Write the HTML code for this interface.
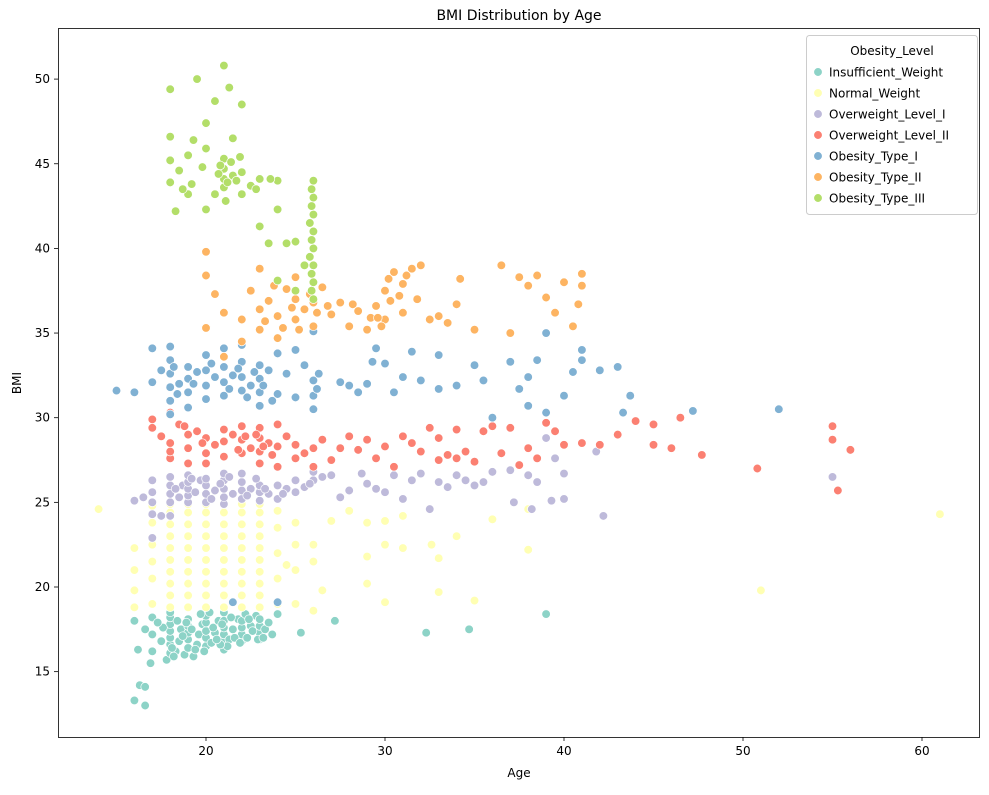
<!DOCTYPE html>
<html><head><meta charset="utf-8"><style>
body{margin:0;background:#fff;font-family:"Liberation Sans","DejaVu Sans",sans-serif}
svg text{font-family:"DejaVu Sans","Liberation Sans",sans-serif}
</style></head><body>
<svg id="chart" width="989" height="790">
<text x="519" y="20" text-anchor="middle" font-size="14">BMI Distribution by Age</text>
<g id="plot"></g>
<rect x="58.5" y="28.5" width="921" height="709" fill="none" stroke="#000" stroke-width="0.8"/>
<text x="519" y="777" text-anchor="middle" font-size="12">Age</text>
<text x="21" y="383" text-anchor="middle" font-size="12" transform="rotate(-90 21 383)">BMI</text>
</svg>
<script>
const seriesNames=["Insufficient_Weight","Normal_Weight","Overweight_Level_I","Overweight_Level_II","Obesity_Type_I","Obesity_Type_II","Obesity_Type_III"];
const colors=["#8dd3c7","#ffffb3","#bebada","#fb8072","#80b1d3","#fdb462","#b3de69"];
const xTicks=[20,30,40,50,60];
const yTicks=[15,20,25,30,35,40,45,50];
const insufficient=[[16,13.3],[16.3,14.2],[16.6,14.1],[16.6,13],[16.2,16.3],[16.9,15.5],[17,16.2],[16.6,17.5],[16,18],[17,17.2],[17,18.2],[17.5,16.8],[17.8,15.7],[18,16.1],[18,16.6],[18,17],[18,17.4],[18,17.8],[18,18.2],[18,18.5],[18.3,16.2],[18.5,16.8],[18.6,17.5],[18.8,16],[19,16.4],[19,16.9],[19,17.3],[19,17.7],[19,18.1],[19.3,15.9],[19.5,16.6],[19.6,17.2],[19.8,17.8],[20,16.5],[20,17],[20,17.4],[20,17.9],[20,18.3],[20.3,16.7],[20.5,17.3],[20.7,18],[21,16.3],[21,16.8],[21,17.2],[21,17.6],[21,18],[21,18.5],[21.3,16.9],[21.5,17.5],[21.8,18.1],[22,16.8],[22,17.2],[22,17.6],[22,18],[22.3,17],[22.5,17.7],[22.8,18.3],[23,16.9],[23,17.3],[23,17.7],[23,18.1],[23.3,17.5],[23.7,17.2],[24,18.4],[25.3,17.3],[27.2,18],[32.3,17.3],[34.7,17.5],[39,18.4],[20.2,18.5],[22.2,18.4],[19.4,16.3],[18.2,15.9],[21.2,16.5],[20.8,16.6],[18.7,17.1],[19.2,17.5],[20.6,16.9],[21.6,17],[22.6,17.4],[17.6,17.6],[18.4,18],[19.7,18.4],[23.5,17.9],[22.9,16.9],[18.9,17.9],[19.9,16.2],[20.4,17.6],[21.4,18.2],[21.9,16.7],[22.4,18.1],[23.2,17],[17.3,17.9],[18.1,16.4],[20.9,17.8]];
const normal=[[14,24.6],[61,24.3],[51,19.8],[30,19.1],[35,19.2],[38,22.2],[36,24],[33,19.7],[33,21.7],[32.6,22.5],[31,22.3],[31,24.2],[30,22.5],[30,23.9],[29,20.2],[29,21.8],[29,23.8],[27,23.9],[26,18.6],[26,21.5],[26,22.5],[25,21],[25,19],[34,23],[38,24.6],[16,18.8],[16,19.8],[16,21],[16,22.3],[17,19],[17,20.5],[17,21.5],[17,22.5],[17,23.8],[17,24.8],
[18,18.8],[18,19.5],[18,20.2],[18,20.9],[18,21.6],[18,22.3],[18,23],[18,23.7],[18,24.4],[18,24.9],
[19,18.8],[19,19.5],[19,20.2],[19,20.9],[19,21.6],[19,22.3],[19,23],[19,23.7],[19,24.4],[19,24.9],
[20,18.8],[20,19.5],[20,20.2],[20,20.9],[20,21.6],[20,22.3],[20,23],[20,23.7],[20,24.4],[20,24.9],
[21,18.8],[21,19.5],[21,20.2],[21,20.9],[21,21.6],[21,22.3],[21,23],[21,23.7],[21,24.4],[21,24.9],
[22,18.8],[22,19.5],[22,20.2],[22,20.9],[22,21.6],[22,22.3],[22,23],[22,23.7],[22,24.4],[22,24.9],
[23,18.8],[23,19.5],[23,20.2],[23,20.9],[23,21.6],[23,22.3],[23,23],[23,23.7],[23,24.4],[23,24.9],
[24,19],[24,20.5],[24,22],[24,23.5],[24,24.5],[25,22.5],[25,23.8],[24.5,21.3],[26.5,19.8],[28,24.5]];
const overweight1=[[16,25.1],[16.5,25.3],[17,22.9],[17,24.3],[17,25],[17,25.6],[17,26.3],[17.5,24.2],[18,24.2],[18,25],[18,25.5],[18,26],[18,26.5],[18.5,25.3],[18.7,26],[19,25],[19,25.4],[19,25.8],[19,26.2],[19,26.6],[19.4,25.6],[19.7,26.3],[20,25],[20,25.5],[20,26],[20,26.4],[20.5,25.7],[21,24.9],[21,25.3],[21,25.8],[21,26.3],[21,26.7],[21.5,25.5],[22,25.2],[22,25.7],[22,26.2],[22,26.7],[22.5,25.8],[23,25.1],[23,25.6],[23,26],[23.5,25.5],[24,25.2],[24,26],[24.5,25.8],[25,25.6],[25,26.3],[25.5,25.9],[26,26.3],[26,26.8],[26.5,26.5],[27,26.6],[27.5,25.3],[28,25.7],[28.7,26.7],[29,26.1],[29.5,25.8],[30,25.6],[30.5,26.6],[31,25.2],[31.5,26.3],[32,26.7],[32.5,24.6],[33,26.2],[33.5,25.9],[34,26.6],[34.5,26.3],[35,26],[35.5,26.2],[36,26.8],[37,26.9],[37.2,25],[38,26.6],[38.5,26.2],[39,28.8],[39.3,25.1],[39.5,27.6],[40,25.2],[40,26.7],[41.8,28],[42.2,24.2],[55,26.5],[38.2,24.6],[18.3,25.8],[19.2,26.4],[20.3,25.2],[20.8,26.1],[21.3,26.5],[22.3,25.4],[22.8,26.4],[23.3,25.8],[24.3,25.5],[25.8,26.1]];
const overweight2=[[17,29.9],[17,29.4],[17.5,28.9],[18,28.5],[18,27.6],[18,28],[18,30.3],[18.5,29.6],[19,29],[19,28.2],[19,27.3],[19.5,29.2],[20,28.8],[20,27.9],[20,27.3],[20.5,28.4],[21,29.3],[21,28.6],[21,27.7],[21.5,29],[22,29.5],[22,28.7],[22,27.9],[22.5,28.2],[23,29.4],[23,28.8],[23,28],[23,27.3],[23.5,28.5],[24,29.6],[24,28.3],[24,27.1],[24.5,28.9],[25,28.4],[25,27.6],[25.5,27.9],[26,27.1],[26,28.2],[26.5,28.7],[27,27.5],[27.5,28.2],[28,28.9],[28.5,28.1],[29,28.7],[29.5,27.6],[30,28.3],[30.5,27.1],[31,28.9],[31.5,28.5],[32,28],[32.5,29.4],[33,27.5],[33,28.8],[33.5,27.8],[34,29.3],[34,27.6],[34.5,28],[35,27.4],[35.5,29.2],[36,29.5],[36.5,27.9],[37,29.4],[37.5,27.2],[38,28.2],[38.5,27.6],[39,29.7],[39.5,29.2],[40,28.4],[41,28.5],[42,28.4],[43,29],[44,29.8],[45,29.6],[45,28.4],[46,28.2],[46.5,30],[47.7,27.8],[50.8,27],[55,29.5],[55,28.7],[55.3,25.7],[56,28.1],[22.8,29],[23.2,28.3],[23.7,27.8],[22.2,28.9],[21.8,28.1],[19.8,28.5],[18.8,29.5]];
const obesity1=[[15,31.6],[16,31.5],[17,32.1],[17,34.1],[17.5,32.8],[18,30.2],[18,31],[18,31.8],[18,32.6],[18,33.4],[18,34.2],[18.5,32],[19,30.6],[19,31.5],[19,32.3],[19,33],[19.5,32.7],[20,31.1],[20,31.9],[20,32.8],[20,33.7],[20.5,32.4],[21,31.3],[21,32.1],[21,33],[21,34.1],[21.5,32.5],[22,31.6],[22,32.4],[22,33.3],[22,34.3],[22.5,31.9],[23,30.7],[23,31.5],[23,32.3],[23,33.1],[23.5,32.8],[24,31.4],[24,33.8],[24.5,32.6],[25,31.2],[25,34],[25.5,33.1],[26,30.5],[26,31.3],[26,32.2],[26,35.1],[27.5,32.1],[28,31.9],[28.5,31.5],[29,32],[29.3,33.3],[29.5,34.1],[30,33.2],[30.5,31.5],[31,32.4],[31.5,33.9],[32,32.2],[33,33.7],[33,31.7],[34,31.9],[35,33.1],[35.5,32.2],[36,30],[37,33.3],[37.5,31.7],[38,30.7],[38,32.4],[38.5,33.4],[39,30.3],[39,35],[40,31.3],[40.5,32.7],[41,33.4],[41,34],[42,32.8],[43,33],[43.3,30.3],[43.7,31.3],[47.2,30.4],[52,30.5],[21.5,19.1],[24,19.1],[18.2,33],[18.4,31.4],[19.3,32],[21.8,32.9],[22.3,31.2],[22.7,32.7],[23.2,31.9],[23.7,31],[21.3,31.7],[20.3,33.2],[26.2,31.7],[26.3,32.6]];
const obesity2=[[20,39.8],[20,38.4],[20,35.3],[20.5,37.3],[21,33.6],[21,36.2],[22,34.5],[22,35.8],[22.5,37.5],[23,35.2],[23,36.4],[23,38.8],[23.5,36.9],[24,34.7],[24,36],[24,38.1],[24.5,37.6],[25,35.8],[25,37],[25,38.3],[25.5,36.4],[26,35.4],[26,36.8],[26.5,37.7],[27,36.1],[27.5,36.8],[28,35.4],[28.5,36.3],[29,35.2],[29.5,36.6],[30,35.8],[30,37.5],[30.5,38.6],[31,36.2],[31,37.9],[31.5,38.8],[32,39],[32.5,35.8],[33,36],[33.5,35.6],[34,36.7],[34.2,38.2],[35,35.2],[36.5,39],[37,35],[37.5,38.3],[38,37.8],[38.5,38.4],[39,37.1],[39.5,36.2],[40,38],[40.5,35.4],[40.8,36.7],[41,38.5],[41,37.8],[23.3,35.7],[23.8,37.8],[24.3,35.3],[24.8,36.5],[25.2,35.2],[25.8,37.3],[26.2,36.2],[26.8,36.6],[28.2,36.7],[29.2,35.9],[29.8,35.4],[30.3,36.9],[30.8,37.2],[31.2,38.4],[31.8,37],[30.2,38.2],[29.6,35.9]];
const obesity3=[[18,49.4],[18,46.6],[18,45.2],[18,43.9],[18.3,42.2],[18.5,44.6],[19,43.2],[19,45.5],[19.3,46.4],[19.5,50],[19.8,44.8],[20,42.3],[20,45.9],[20,47.4],[20.5,48.7],[20.5,43.2],[21,44.1],[21,44.7],[21,45.3],[21,43.6],[21,50.8],[21.3,49.5],[21.5,44.3],[21.5,46.5],[22,44.5],[22,43.2],[22,48.5],[22.5,43.7],[23,44.1],[23,41.3],[23.5,40.3],[24,44],[24,42.3],[24,38.1],[24.5,40.3],[25,40.4],[25,37.5],[25.5,39],[26,37],[26,38],[26,39],[26,40],[26,41],[26,42],[26,43],[26,44],[25.8,39.5],[25.8,41.5],[20.8,44.9],[21.2,43.9],[21.4,45.1],[21.7,44],[21.9,45.4],[20.7,44.4],[21.1,42.8],[19.2,43.8],[18.7,43.5],[22.8,43.5],[23.6,44.1],[25.9,37.5],[25.9,38.5],[25.9,40.5],[25.9,42.5],[25.9,43.5]];
const allSeries=[insufficient,normal,overweight1,overweight2,obesity1,obesity2,obesity3];
const dataNames=["insufficient","normal","overweight-1","overweight-2","obesity-1","obesity-2","obesity-3"];
const NS="http://www.w3.org/2000/svg";
const svg=document.getElementById('chart');
const plot=document.getElementById('plot');
function xs(v){return 206+(v-20)*17.9;}
function ys(v){return 587-(v-20)*16.93;}
function mk(tag,attrs,parent){const e=document.createElementNS(NS,tag);for(const k in attrs)e.setAttribute(k,attrs[k]);parent.appendChild(e);return e;}
allSeries.forEach((s,i)=>{
  const g=mk('g',{},plot);
  
  
  s.forEach(p=>{
    const c=mk('circle',{cx:xs(p[0]),cy:ys(p[1]),r:4.3,fill:colors[i],stroke:'#fff','stroke-width':0.7},g);
    
    
  });
});
xTicks.forEach(t=>{
  const x=xs(t);
  const l=mk('line',{x1:x,x2:x,y1:737,y2:741,stroke:'#000','stroke-width':0.8},svg);
  
  
  const tx=mk('text',{x:x,y:755,'text-anchor':'middle','font-size':12},svg);
  tx.textContent=t;
  
  
});
yTicks.forEach(t=>{
  const y=ys(t);
  const l=mk('line',{x1:54,x2:58,y1:y,y2:y,stroke:'#000','stroke-width':0.8},svg);
  
  
  const tx=mk('text',{x:50,y:y+4,'text-anchor':'end','font-size':12},svg);
  tx.textContent=t;
  
  
});
const lg=mk('g',{},svg);


mk('rect',{x:806.5,y:35.5,width:171,height:179,rx:3,fill:'#fff','fill-opacity':0.85,stroke:'#ccc'},lg);
const lt=mk('text',{x:892,y:55,'text-anchor':'middle','font-size':12},lg);
lt.textContent='Obesity_Level';


seriesNames.forEach((n,i)=>{
  const y=72+i*21;
  const e=mk('g',{},lg);
  
  
  mk('circle',{cx:818,cy:y,r:4.3,fill:colors[i],stroke:'#fff','stroke-width':0.7},e);
  const t=mk('text',{x:829,y:y+4.5,'font-size':12},e);
  t.textContent=n;
});
</script>
</body></html>
